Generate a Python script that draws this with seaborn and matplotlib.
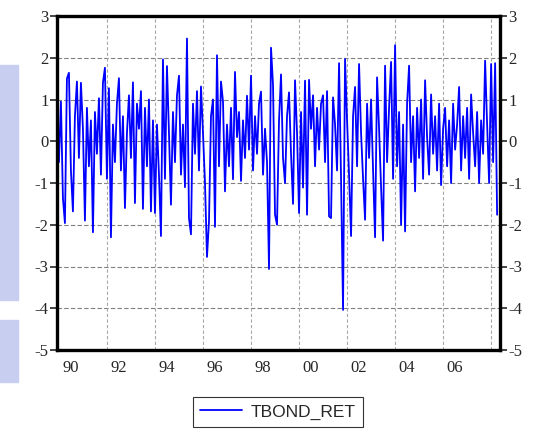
import numpy as np
import pandas as pd
import matplotlib
matplotlib.use("Agg")
import matplotlib.pyplot as plt
import matplotlib.ticker as mticker
from matplotlib.patches import Rectangle
import seaborn as sns

# monthly returns, 1990M1 .. 2008M4
tbond_ret = [
    -0.5, 0.95, -1.36, -1.96, 1.5, 1.64, -0.7, -1.68, 0.6, 1.43, -0.4, 1.4,      # 1990
    0.3, -1.9, 0.8, -0.6, 0.5, -2.18, 0.7, -0.3, 1.03, -0.8, 1.4, 1.76,          # 1991
    -0.9, 1.27, -2.3, 0.4, -0.5, 0.9, 1.51, -0.7, 0.6, -1.6, 0.2, 1.1,           # 1992
    -0.4, 1.41, -1.48, 0.9, 0.3, 1.2, -1.62, 0.8, -0.6, 1.0, -1.68, 0.5,         # 1993
    -1.72, 0.4, -0.8, -2.27, 1.96, -0.9, 1.8, 0.2, -1.52, 0.7, -0.5, 1.1,        # 1994
    1.57, -0.8, 0.4, -1.1, 2.46, -1.84, -2.23, 0.9, -0.3, 1.2, -0.7, 1.31,       # 1995
    0.2, -1.0, -2.77, -1.92, 0.6, 1.0, -2.05, 2.06, -0.6, 1.43, 0.95, -1.2,      # 1996
    0.4, -0.6, 0.8, -0.91, 1.66, 0.1, 0.7, -0.95, 0.5, -0.4, 1.09, -0.2,         # 1997
    1.57, -0.7, 0.6, -0.3, 0.9, 1.19, -0.8, 0.3, -0.5, -3.06, 2.24, 1.35,        # 1998
    -1.76, -2.0, 0.5, 1.6, -0.4, -1.0, 0.6, 1.17, -0.3, -1.5, 1.46, 0.2,         # 1999
    -1.72, 0.7, -1.11, 1.45, -1.76, 1.47, 0.3, 1.1, -0.6, 0.8, -0.2, 0.9,        # 2000
    1.1, -0.5, 1.2, -1.8, -1.84, 1.05, 0.4, -0.7, 1.87, -0.9, -4.04, 1.97,       # 2001
    0.5, -0.8, -2.27, 0.6, 1.3, -0.6, 1.85, 0.2, -0.9, -1.88, 0.9, -0.4,         # 2002
    1.0, -0.7, -2.3, 1.53, 0.3, -1.1, -2.38, 1.81, -0.5, 0.8, 1.9, -0.9,         # 2003
    2.3, -0.6, 0.7, -2.0, 0.4, -2.16, 0.9, 1.81, -0.5, 0.6, -1.2, 0.8,           # 2004
    -0.4, 1.0, -0.9, 1.46, 0.1, -0.8, 1.12, -0.3, 0.6, -0.7, 0.9, -1.05,         # 2005
    0.3, 0.8, -0.6, 0.5, -1.0, 0.9, -0.2, 0.4, 1.3, -0.7, 0.6, -0.4,             # 2006
    0.8, -0.9, 1.12, 0.2, -0.6, 0.7, -1.0, 0.5, -0.3, 1.93, 0.4, -1.0,           # 2007
    1.85, -0.5, 1.87, -1.76,                                                     # 2008
]
start_year = 1990
year_labels = ['90', '92', '94', '96', '98', '00', '02', '04', '06']
y_ticks = [-5, -4, -3, -2, -1, 0, 1, 2, 3]

df = pd.DataFrame({'t': start_year + np.arange(len(tbond_ret)) / 12.0,
                   'TBOND_RET': tbond_ret})

sns.set_style("white")
plt.rcParams['font.family'] = ['Liberation Serif', 'DejaVu Serif']
plt.rcParams['axes.unicode_minus'] = False

fig = plt.figure(figsize=(5.34, 4.34), dpi=100)
ax = fig.add_axes([57 / 534, 1 - 350 / 434, 443 / 534, 334 / 434])

sns.lineplot(data=df, x='t', y='TBOND_RET', ax=ax, color='#0000ff',
             linewidth=1.3, legend=False)

ax.set_xlim(1989.92, 2008.37)
ax.set_ylim(-5, 3)
ax.set_xlabel('')
ax.set_ylabel('')

# grid
for v in y_ticks[1:-1]:
    ax.axhline(v, color='#808080', linewidth=0.8, linestyle=(0, (4, 2)), zorder=0)
for yr in range(1992, 2009, 2):
    ax.axvline(yr, color='#a8a8a8', linewidth=0.8, linestyle=(0, (3, 2)), zorder=0)

# y axis both sides
ax.yaxis.set_major_locator(mticker.FixedLocator(y_ticks))
ax.tick_params(axis='y', which='major', direction='out', length=5, width=1.2,
               left=True, right=True, labelleft=True, labelright=True,
               labelsize=12, pad=1)

# x axis: year ticks, labels centred in even years
ax.xaxis.set_major_locator(mticker.FixedLocator(list(range(1990, 2009))))
ax.xaxis.set_major_formatter(mticker.NullFormatter())
ax.tick_params(axis='x', which='major', direction='out', length=6, width=1.2)
label_pos = [start_year + 2 * i + 0.5 for i in range(len(year_labels))]
ax.xaxis.set_minor_locator(mticker.FixedLocator(label_pos))
ax.xaxis.set_minor_formatter(mticker.FixedFormatter(year_labels))
ax.tick_params(axis='x', which='minor', length=0, labelsize=12, pad=7)

for s in ax.spines.values():
    s.set_linewidth(2.4)
    s.set_color('black')

# legend below the plot
fig.legend(ax.get_lines()[:1], ['TBOND_RET'], loc='center',
           bbox_to_anchor=(278 / 534, 1 - 412 / 434), frameon=True, fancybox=False,
           edgecolor='black', prop={'family': 'Liberation Sans', 'size': 12.5},
           handlelength=2.4, borderpad=0.4, handletextpad=0.5)
fig.legends[0].get_frame().set_linewidth(0.8)

# faint screenshot leftovers on the left edge
fig.add_artist(Rectangle((0, 1 - 300 / 434), 18 / 534, 235 / 434,
                         transform=fig.transFigure, color='#c8cef0', zorder=-1))
fig.add_artist(Rectangle((0, 1 - 382 / 434), 18 / 534, 62 / 434,
                         transform=fig.transFigure, color='#c8cef0', zorder=-1))

fig.savefig('out.png', dpi=100)
